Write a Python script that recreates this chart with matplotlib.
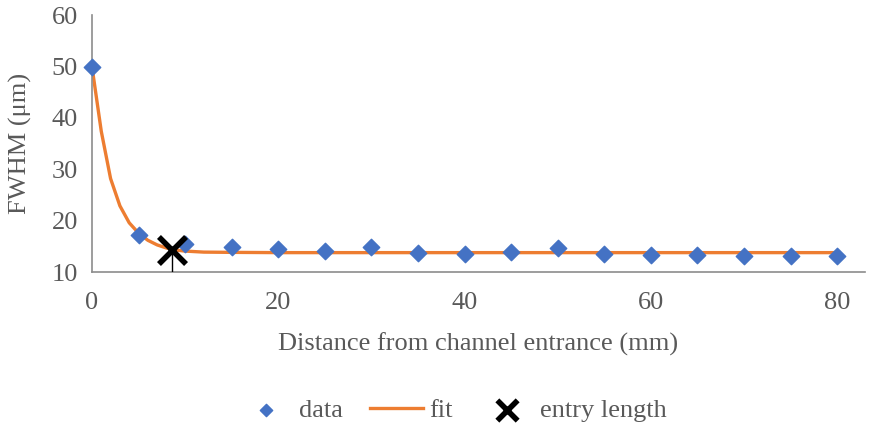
import matplotlib.pyplot as plt
import numpy as np

# measured FWHM along the channel
dist = [0, 5, 10, 15, 20, 25, 30, 35, 40, 45, 50, 55, 60, 65, 70, 75, 80]
fwhm = [50.0, 17.3, 15.4, 14.9, 14.6, 14.1, 14.8, 13.7, 13.6, 13.9, 14.7, 13.6, 13.3, 13.3, 13.1, 13.2, 13.2]

# fitted curve
fit_x = [0, 1, 2, 3, 4, 5, 6, 7, 8, 9, 10, 12, 15, 20, 30, 40, 50, 60, 70, 80]
fit_y = [50.0, 37.4, 28.2, 22.9, 19.6, 17.6, 16.2, 15.3, 14.7, 14.3, 14.1, 13.9, 13.85, 13.8, 13.8, 13.8, 13.8, 13.8, 13.8, 13.8]

# entry length marker
entry_x = [8.6]
entry_y = [14.4]


def main():
    plt.rcParams['font.family'] = ['Liberation Serif', 'DejaVu Serif']
    grey = '#595959'

    fig = plt.figure(figsize=(8.8, 4.32), dpi=100)
    ax = fig.add_axes([0.1045, 0.370, 0.8785, 0.595])

    ax.plot(fit_x, fit_y, color='#ED7D31', lw=2.4, label='fit', zorder=2)
    ax.scatter(dist, fwhm, marker='D', s=70, c='#4472C4', label='data', zorder=3, clip_on=False)
    ax.errorbar(entry_x, entry_y, yerr=[[entry_y[0] - 10], [0]], fmt='none',
                ecolor='black', elinewidth=1, capsize=0, zorder=4)
    ax.scatter(entry_x, entry_y, marker='x', s=380, c='black', linewidths=4,
               label='entry length', zorder=5)

    ax.set_xlim(0, 83)
    ax.set_ylim(10, 60)
    ax.set_xticks([0, 20, 40, 60, 80])
    ax.set_yticks([10, 20, 30, 40, 50, 60])
    ax.tick_params(length=0, labelsize=19, colors=grey)
    ax.tick_params(axis='x', pad=14)
    ax.tick_params(axis='y', pad=10)

    for s in ['top', 'right']:
        ax.spines[s].set_visible(False)
    for s in ['left', 'bottom']:
        ax.spines[s].set_color('#8c8c8c')
        ax.spines[s].set_linewidth(1.2)

    ax.set_xlabel('Distance from channel entrance (mm)', fontsize=19, color=grey, labelpad=14)
    ax.set_ylabel('FWHM (μm)', fontsize=19, color=grey, labelpad=14)

    handles, labels = ax.get_legend_handles_labels()
    order = [labels.index('data'), labels.index('fit'), labels.index('entry length')]
    leg = fig.legend([handles[i] for i in order], [labels[i] for i in order],
                     loc='center', bbox_to_anchor=(0.515, 0.05), ncol=3, frameon=False,
                     fontsize=19, handlelength=2.0, handletextpad=0.25, columnspacing=1.05,
                     markerscale=0.75)
    for t in leg.get_texts():
        t.set_color(grey)

    fig.savefig('out.png', dpi=100)


if __name__ == "__main__":
    main()
